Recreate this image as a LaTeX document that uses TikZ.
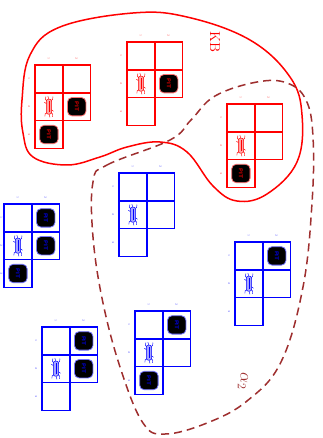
\documentclass[tikz,border=0pt]{standalone}
\definecolor{kbred}{rgb}{1,0,0}
\definecolor{mblue}{rgb}{0,0,1}
\definecolor{alphared}{rgb}{0.62,0.18,0.18}
\def\lblx{-6}
\tikzset{
  gridline/.style={line width=1.6pt},
  lbl/.style={font=\fontsize{3}{3}\selectfont, rotate=-90, inner sep=0pt},
  pics/wgrid/.style={code={
    \def\c{27.8}
    \foreach \i/\j in {0/0,1/0,0/1,1/1,0/2}{
      \draw[gridline,draw=#1] (\i*\c,\j*\c) rectangle ++(\c,\c);
      \coordinate (-c\i\j) at (\i*\c+0.5*\c,\j*\c+0.5*\c);
    }
    \node[lbl,text=#1!70] (-x1) at (0.5*\c,-6) {1};
    \node[lbl,text=#1!70] (-x2) at (1.5*\c,-6) {2};
    \node[lbl,text=#1!70] (-y1) at (\lblx,0.5*\c) {1};
    \node[lbl,text=#1!70] (-y2) at (\lblx,1.5*\c) {2};
    \node[lbl,text=#1!70] (-y3) at (\lblx,2.5*\c) {3};
    % wumpus
    \begin{scope}[shift={(0.5*\c,1.5*\c)}]
      \draw[#1,line width=0.45pt,line cap=round]
        (-2,-6) .. controls (-4,-7) .. (-3,-10)
        (0,-7) .. controls (0,-9) .. (-1,-10.5)
        (2,-6) .. controls (4,-7) .. (4,-10)
        (-2.5,-3) -- (-4.5,-4.5)
        (-2,6) .. controls (-4,7) .. (-4,9.5)
        (0,7) .. controls (0,9) .. (1,10.5)
        (2,6) .. controls (4,7) .. (3.5,10)
        (2.5,3) -- (4.5,4.5);
      \draw[#1,fill=#1!35,line width=0.5pt,rounded corners=2pt] (-2.6,-7.5) rectangle (2.6,7.5);
      \draw[#1,line width=0.3pt] (0,-5.5) -- (0,5.5);
    \end{scope}
  }},
  pics/pit/.style={code={
    \draw[#1!55,fill=black,line width=0.8pt,rounded corners=4.5pt] (-9.2,-9.2) rectangle (9.2,9.2);
    \node[text=#1,font=\fontsize{5.5}{5.5}\selectfont\sffamily\bfseries,rotate=-90,inner sep=0pt] (-t) at (0,0) {PIT};
  }}
}
\begin{document}
\begin{tikzpicture}[x=1pt,y=-1pt]
\useasboundingbox (0,0) rectangle (322,438);
% KB region
\draw[kbred,line width=1.5pt] plot[smooth cycle,tension=0.65] coordinates {
 (22,100) (30,55) (60,27) (133,13) (187,17) (250,40) (290,77) (302,115) (297,162)
 (267,194) (237,201) (213,186) (187,152) (160,142) (127,147) (100,157) (67,165) (33,157) (23,133)};
\node[kbred,rotate=-90,font=\Large,inner sep=0pt] (kb) at (215,42) {KB};
% alpha2 region
\draw[alphared,line width=1.5pt,dash pattern=on 8pt off 5pt] plot[smooth cycle,tension=0.65] coordinates {
 (93,182) (107,165) (170,140) (191,120) (215,96) (257,82) (287,83) (306,100) (313,137)
 (312,203) (303,287) (281,362) (247,401) (207,423) (165,434) (143,423) (121,370) (103,303) (93,237)};
\node[alphared,rotate=-90,font=\LARGE,inner sep=0pt] (a2) at (243,381) {$\alpha_2$};
% red grids
\pic (g1) at (35,65) {wgrid=kbred};
\pic at (g1-c11) {pit=kbred};
\pic at (g1-c02) {pit=kbred};
\pic (g2) at (127,42) {wgrid=kbred};
\pic at (g2-c11) {pit=kbred};
\pic (g3) at (227,104) {wgrid=kbred};
\pic at (g3-c02) {pit=kbred};
% blue grids
\begin{scope}
\def\lblx{-2.6}
\pic (g4) at (4,204) {wgrid=mblue};
\end{scope}
\pic at (g4-c10) {pit=mblue};
\pic at (g4-c11) {pit=mblue};
\pic at (g4-c02) {pit=mblue};
\pic (g5) at (119,173) {wgrid=mblue};
\pic (g6) at (235,242) {wgrid=mblue};
\pic at (g6-c10) {pit=mblue};
\pic (g7) at (42,327) {wgrid=mblue};
\pic at (g7-c10) {pit=mblue};
\pic at (g7-c11) {pit=mblue};
\pic (g8) at (135,311) {wgrid=mblue};
\pic at (g8-c10) {pit=mblue};
\pic at (g8-c02) {pit=mblue};
\end{tikzpicture}
\end{document}
